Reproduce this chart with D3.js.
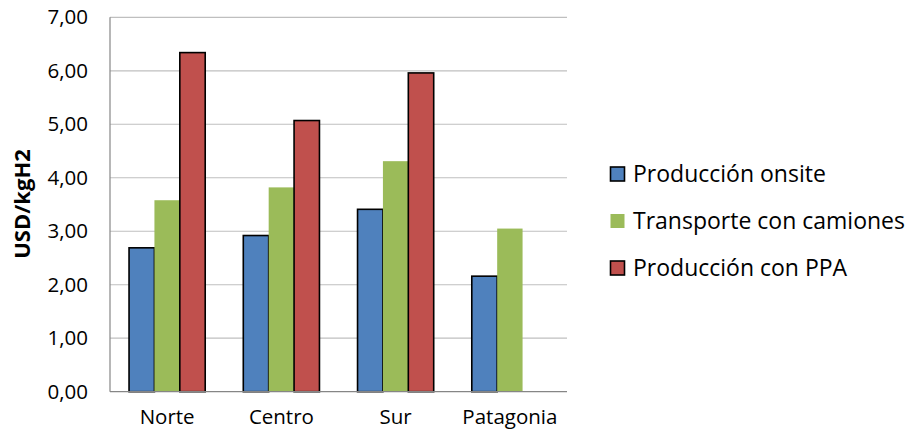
<!DOCTYPE html>
<html>
<head>
<meta charset="utf-8">
<script src="https://cdn.jsdelivr.net/npm/d3@7"></script>
<style>
  html, body { margin: 0; padding: 0; background: #fff; }
  svg { display: block; font-family: "Open Sans", sans-serif; }
</style>
</head>
<body>
<svg id="chart" width="908" height="437"></svg>
<script>
// Hydrogen cost by region (USD per kg H2)
const regions = ["Norte", "Centro", "Sur", "Patagonia"];
const seriesNames = ["Producción onsite", "Transporte con camiones", "Producción con PPA"];
const onsite = [2.69, 2.92, 3.41, 2.16];
const trucks = [3.58, 3.82, 4.31, 3.05];
const ppa = [6.34, 5.07, 5.96, null];
const yTicks = [0, 1, 2, 3, 4, 5, 6, 7];

const colors = ["#4F81BD", "#9BBB59", "#C0504D"];
const outlined = [true, false, true];
const seriesValues = [onsite, trucks, ppa];

const svg = d3.select("#chart");
const margin = { left: 110, right: 341, top: 17.3, bottom: 45.3 };
const W = 908, H = 437;
const plotW = W - margin.left - margin.right;
const plotH = H - margin.top - margin.bottom;

const g = svg.append("g").attr("transform", `translate(${margin.left},${margin.top})`);

const x0 = d3.scaleBand().domain(regions).range([0, plotW]).paddingInner(0).paddingOuter(0);
// bar groups: 3 bars with a gap of 1.5 bar widths between groups
const barW = x0.bandwidth() / (3 + 1.5);
const x1 = d3.scaleBand().domain(d3.range(3)).range([barW * 0.75, barW * 3.75]).padding(0);
const y = d3.scaleLinear().domain([0, 7]).range([plotH, 0]);

// gridlines
g.append("g")
  .selectAll("line")
  .data(yTicks.filter(t => t > 0))
  .join("line")
  .attr("x1", 0).attr("x2", plotW)
  .attr("y1", d => y(d)).attr("y2", d => y(d))
  .attr("stroke", "#BFBFBF").attr("stroke-width", 1.2);

// y tick labels
const fmt = v => d3.format(".2f")(v).replace(".", ",");
const yAxis = d3.axisLeft(y).tickValues(yTicks).tickFormat(fmt).tickSize(0).tickPadding(22);
const ya = g.append("g").call(yAxis);
ya.select(".domain").remove();
ya.selectAll("text")
  .attr("font-family", "Open Sans, sans-serif")
  .attr("font-size", 20.5).attr("fill", "#000");

// bars
const rows = [];
seriesValues.forEach((vals, si) => {
  vals.forEach((v, ri) => {
    if (v != null) rows.push({ si, region: regions[ri], v });
  });
});
g.append("g")
  .selectAll("rect")
  .data(rows)
  .join("rect")
  .attr("x", d => x0(d.region) + x1(d.si))
  .attr("width", x1.bandwidth())
  .attr("y", d => y(d.v))
  .attr("height", d => y(0) - y(d.v))
  .attr("fill", d => colors[d.si])
  .attr("stroke", d => outlined[d.si] ? "#000" : "none")
  .attr("stroke-width", 1.6);

// axis lines
g.append("line").attr("x1", 0).attr("x2", 0).attr("y1", 0).attr("y2", plotH)
  .attr("stroke", "#868686").attr("stroke-width", 1.2);
g.append("line").attr("x1", 0).attr("x2", plotW).attr("y1", plotH).attr("y2", plotH)
  .attr("stroke", "#868686").attr("stroke-width", 1.2);

// category labels
const xAxis = d3.axisBottom(x0).tickSize(0).tickPadding(18);
const xa = g.append("g").attr("transform", `translate(0,${plotH})`).call(xAxis);
xa.select(".domain").remove();
xa.selectAll("text")
  .attr("font-family", "Open Sans, sans-serif")
  .attr("font-size", 20.5).attr("fill", "#000");

// y axis title
svg.append("text")
  .attr("transform", "translate(30,204) rotate(-90)")
  .attr("text-anchor", "middle")
  .attr("font-size", 22).attr("font-weight", "bold")
  .text("USD/kgH2");

// legend
const legend = svg.append("g").attr("transform", "translate(610,0)");
const legendY = d3.scalePoint().domain(seriesNames).range([174, 268]);
seriesNames.forEach((name, i) => {
  const row = legend.append("g").attr("transform", `translate(0,${legendY(name)})`);
  row.append("rect")
    .attr("x", 0.5).attr("y", -7).attr("width", 14).attr("height", 14)
    .attr("fill", colors[i])
    .attr("stroke", outlined[i] ? "#000" : "none")
    .attr("stroke-width", 1.6);
  row.append("text")
    .attr("x", 23).attr("y", 0).attr("dy", "0.35em")
    .attr("font-size", 23)
    .text(name);
});
</script>
</body>
</html>
